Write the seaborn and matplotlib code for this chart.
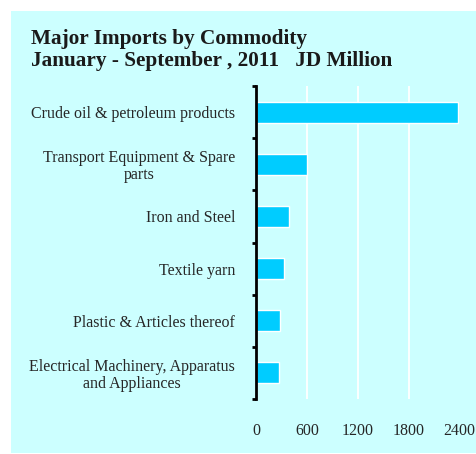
"""Major imports by commodity, Jan-Sep 2011 (JD million)."""

from __future__ import annotations

import matplotlib

matplotlib.use("Agg")

import matplotlib.pyplot as plt
import pandas as pd
import seaborn as sns
from matplotlib.patches import Rectangle
from matplotlib.ticker import FixedLocator

CATEGORIES = [
    "Crude oil & petroleum products",
    "Transport Equipment & Spare\nparts",
    "Iron and Steel",
    "Textile yarn",
    "Plastic & Articles thereof",
    "Electrical Machinery, Apparatus\nand Appliances",
]
VALUES = [2386, 602, 390, 331, 283, 272]
X_TICKS = [0, 600, 1200, 1800, 2400]

TITLE = "Major Imports by Commodity\nJanuary - September , 2011   JD Million"

PANEL_BG = "#CCFFFF"
BAR_COLOR = "#00CCFF"


def configure_plot_theme() -> None:
    sns.set_theme(style="white")
    plt.rcParams["font.family"] = ["Liberation Serif", "DejaVu Serif"]
    plt.rcParams["text.color"] = "#1a1a1a"


def draw_chart(out_path: str) -> None:
    configure_plot_theme()
    df = pd.DataFrame({"commodity": CATEGORIES, "value": VALUES})

    fig = plt.figure(figsize=(4.76, 4.54), dpi=100, facecolor="white")
    fig.patches.append(
        Rectangle((11 / 476, 1 - 453 / 454), 465 / 476, 442 / 454,
                  transform=fig.transFigure, facecolor=PANEL_BG, edgecolor="none", zorder=-5)
    )

    ax = fig.add_axes([256 / 476, 1 - 399 / 454, (459.5 - 256) / 476, (399 - 86) / 454])
    ax.set_facecolor(PANEL_BG)
    sns.barplot(data=df, x="value", y="commodity", orient="h", color=BAR_COLOR,
                width=0.4, saturation=1, ax=ax, zorder=3)

    ax.set_xlim(0, 2400)
    ax.set_ylim(len(CATEGORIES) - 0.5, -0.5)
    ax.set_xticks(X_TICKS)
    ax.set_xticklabels([str(t) for t in X_TICKS])
    ax.xaxis.grid(True, color="white", linewidth=1.3, zorder=1)
    ax.yaxis.grid(False)
    ax.set_axisbelow(True)

    for side in ["top", "right", "bottom"]:
        ax.spines[side].set_visible(False)
    ax.spines["left"].set_color("black")
    ax.spines["left"].set_linewidth(2)
    ax.spines["left"].set_zorder(4)

    ax.yaxis.set_minor_locator(FixedLocator([i - 0.5 for i in range(len(CATEGORIES) + 1)]))
    ax.tick_params(axis="y", which="major", length=0, pad=15, labelsize=11.5)
    ax.tick_params(axis="y", which="minor", left=True, length=3, width=2, color="black")
    ax.tick_params(axis="x", length=0, pad=17, labelsize=11.5)
    for label in ax.get_yticklabels():
        label.set_multialignment("center")
        label.set_linespacing(1.1)

    ax.set_xlabel("")
    ax.set_ylabel("")

    fig.text(31 / 476, 1 - 29 / 454, TITLE, ha="left", va="top", fontsize=15.3,
             fontweight="bold", linespacing=1.15)

    fig.savefig(out_path, dpi=100, facecolor="white")
    plt.close(fig)


def main() -> None:
    draw_chart("out.png")


if __name__ == "__main__":
    main()
